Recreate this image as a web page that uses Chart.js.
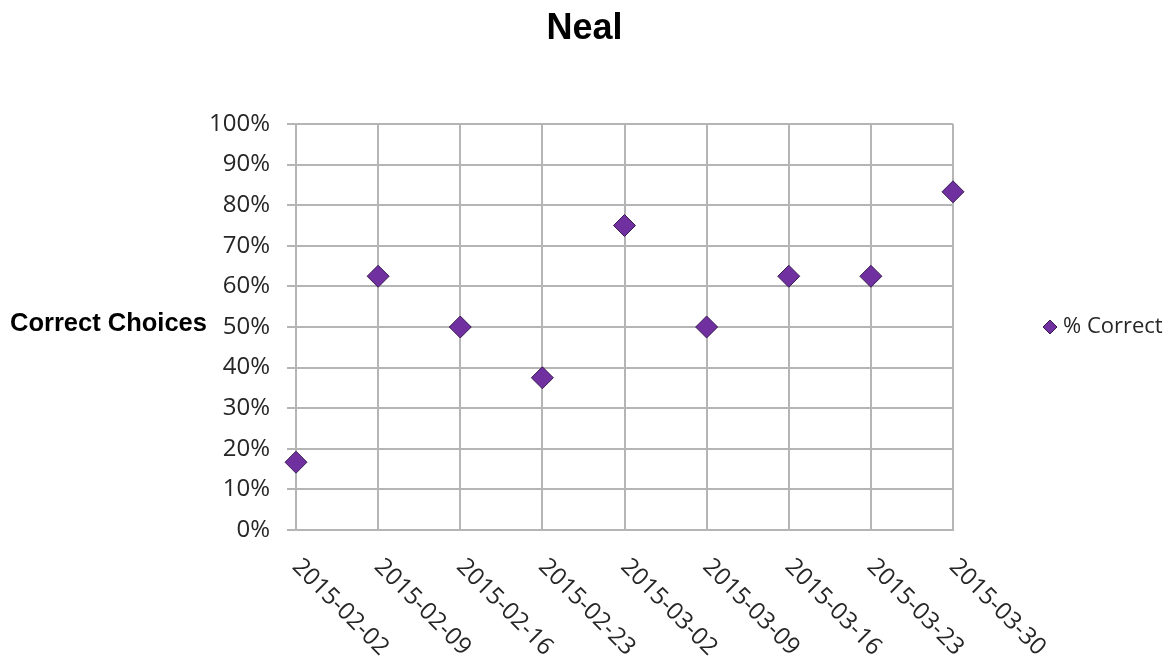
<!DOCTYPE html>
<html>
<head>
<meta charset="utf-8">
<title>Neal</title>
<script src="https://cdn.jsdelivr.net/npm/chart.js@4.4.1/dist/chart.umd.min.js"></script>
<style>
  html, body { margin: 0; padding: 0; background: #fff; }
  #wrap { width: 1169px; height: 663px; }
</style>
</head>
<body>
<div id="wrap"><canvas id="nealChart" width="1169" height="663"></canvas></div>
<script>
// Weekly results
const weeks = ['2015-02-02', '2015-02-09', '2015-02-16', '2015-02-23', '2015-03-02',
               '2015-03-09', '2015-03-16', '2015-03-23', '2015-03-30'];
const pctCorrect = [16.7, 62.5, 50, 37.5, 75, 50, 62.5, 62.5, 83.3];
const seriesName = '% Correct';
const axisTitle = 'Correct Choices';
const chartTitle = 'Neal';
const yMin = 0;
const yMax = 100;
const yStep = 10;

const TEXT = '#262626';
const GRID = '#b5b5b5';
const MARKER = '#7030a0';
const MARKER_EDGE = '#3a1c52';

// Labels Chart.js can't lay out the way we want:
// page-centred title, down-right rotated dates, a horizontal axis title and the side legend
const extraLabels = {
    id: 'extraLabels',
    afterDraw(chart) {
        const { ctx, chartArea, scales } = chart;
        const midY = (chartArea.top + chartArea.bottom) / 2;
        ctx.save();

        // title, centred on the whole canvas
        ctx.font = 'bold 36px "Liberation Sans"';
        ctx.fillStyle = '#000';
        ctx.textAlign = 'center';
        ctx.textBaseline = 'middle';
        ctx.fillText(chartTitle, chart.width / 2, 29);

        // category labels, rotated 45deg clockwise
        ctx.font = '24px "Open Sans"';
        ctx.fillStyle = TEXT;
        ctx.textAlign = 'left';
        weeks.forEach((w, i) => {
            const x = scales.x.getPixelForTick(i);
            ctx.save();
            ctx.translate(x, chartArea.bottom + 33);
            ctx.rotate(Math.PI / 4);
            ctx.fillText(w, 0, 0);
            ctx.restore();
        });

        // y axis title, horizontal
        ctx.font = 'bold 25.5px "Liberation Sans"';
        ctx.fillStyle = '#000';
        ctx.textBaseline = 'alphabetic';
        ctx.fillText(axisTitle, 10, midY + 4);

        // legend
        const lx = chartArea.right + 97;
        ctx.beginPath();
        ctx.moveTo(lx - 7, midY);
        ctx.lineTo(lx, midY - 7);
        ctx.lineTo(lx + 7, midY);
        ctx.lineTo(lx, midY + 7);
        ctx.closePath();
        ctx.fillStyle = MARKER;
        ctx.fill();
        ctx.strokeStyle = MARKER_EDGE;
        ctx.lineWidth = 1;
        ctx.stroke();

        ctx.font = '22px "Open Sans"';
        ctx.fillStyle = TEXT;
        ctx.textBaseline = 'middle';
        ctx.fillText(seriesName, lx + 13, midY);

        ctx.restore();
    }
};

new Chart(document.getElementById('nealChart'), {
    type: 'line',
    data: {
        labels: weeks,
        datasets: [{
            label: seriesName,
            data: pctCorrect,
            showLine: false,
            pointStyle: 'rectRot',
            pointRadius: 11,
            pointHoverRadius: 11,
            pointBackgroundColor: MARKER,
            pointBorderColor: MARKER_EDGE,
            pointBorderWidth: 1,
            pointHoverBorderWidth: 1,
            clip: false
        }]
    },
    options: {
        responsive: false,
        animation: false,
        layout: {
            padding: { left: 0, right: 216, top: 124, bottom: 0 }
        },
        plugins: {
            legend: { display: false },
            title: { display: false }
        },
        scales: {
            x: {
                offset: false,
                ticks: { display: false },
                grid: { color: GRID, lineWidth: 2, drawTicks: false },
                border: { color: GRID, width: 2 },
                afterFit(scale) { scale.height = 133; }
            },
            y: {
                min: yMin,
                max: yMax,
                ticks: {
                    stepSize: yStep,
                    callback: v => v + '%',
                    color: TEXT,
                    padding: 17,
                    font: { family: 'Open Sans', size: 24 }
                },
                grid: { color: GRID, lineWidth: 2, tickLength: 9 },
                border: { color: GRID, width: 2 },
                afterFit(scale) { scale.width = 296; }
            }
        }
    },
    plugins: [extraLabels]
});
</script>
</body>
</html>
